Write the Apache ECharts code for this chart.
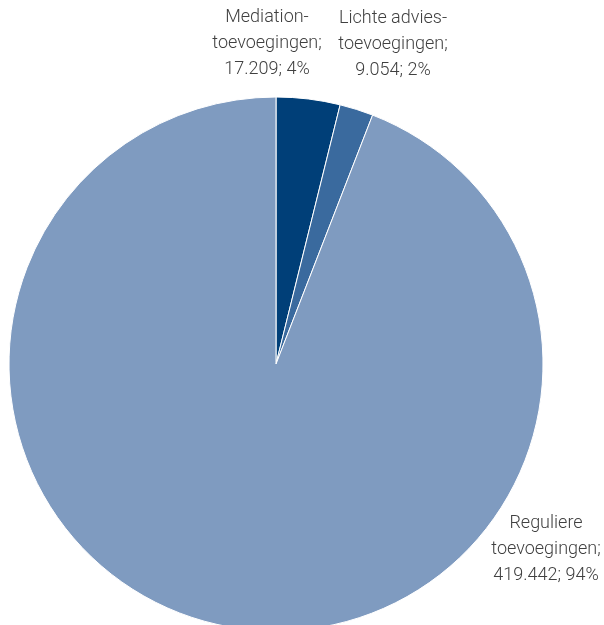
<!DOCTYPE html>
<html><head><meta charset="utf-8">
<script src="https://cdn.jsdelivr.net/npm/echarts@6/dist/echarts.min.js"></script>
<style>html,body{margin:0;padding:0;background:#fff}#c{width:604px;height:625px}</style>
</head><body><div id="c"></div>
<script>
const categories = ['Mediation-\ntoevoegingen', 'Lichte advies-\ntoevoegingen', 'Reguliere\ntoevoegingen'];
const values = [17209, 9054, 419442];
const percentLabels = ['4%', '2%', '94%'];
const colors = ['#003f78', '#3a6a9e', '#7f9bc0'];
const labelPos = [[267, 43], [393, 44], [546, 549]];

function fmtNum(v) { return String(v).replace(/\B(?=(\d{3})+(?!\d))/g, '.'); }

const chart = echarts.init(document.getElementById('c'));
chart.setOption({
  animation: false,
  series: [{
    type: 'pie',
    center: [276, 364],
    radius: 267,
    startAngle: 90,
    clockwise: true,
    data: categories.map((n, i) => ({ name: n, value: values[i], itemStyle: { color: colors[i] } })),
    itemStyle: { borderColor: '#ffffff', borderWidth: 1 },
    label: {
      show: true,
      position: 'outside',
      formatter: p => p.name + ';\n' + fmtNum(p.value) + '; ' + percentLabels[p.dataIndex],
      fontFamily: 'Roboto',
      fontWeight: 300,
      fontSize: 18,
      lineHeight: 26,
      color: '#404040',
      align: 'center',
      overflow: 'none',
      width: 200
    },
    labelLine: { show: false },
    labelLayout: p => ({ x: labelPos[p.dataIndex][0], y: labelPos[p.dataIndex][1], align: 'center', verticalAlign: 'middle' }),
    emphasis: { disabled: true }
  }]
});
</script></body></html>
